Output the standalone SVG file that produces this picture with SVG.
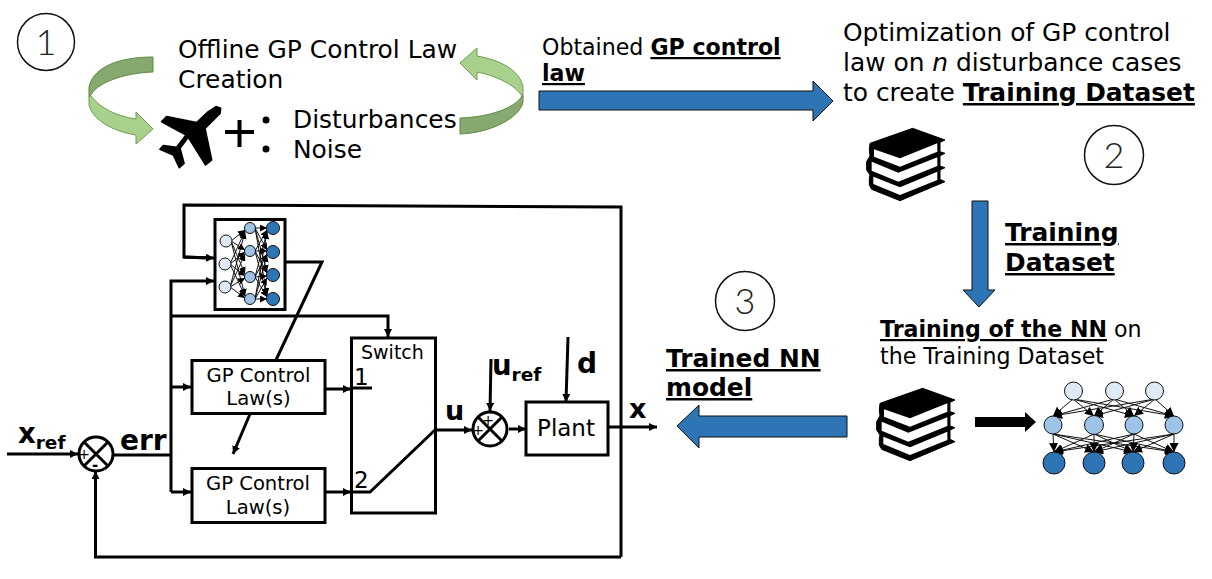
<svg xmlns="http://www.w3.org/2000/svg" width="1212" height="579" viewBox="0 0 1212 579">
<style>
text{font-family:"DejaVu Sans",sans-serif;fill:#000}
.b{font-weight:700}
.u{text-decoration:underline}
.t{font-size:24.9px}
.num{font-family:"Lato","Open Sans","DejaVu Sans",sans-serif;font-weight:300;font-size:36px;text-anchor:middle;fill:#222}
.gp{font-size:19.6px;text-anchor:middle}
.box{fill:#fff;stroke:#000;stroke-width:3}
.w{fill:none;stroke:#000;stroke-width:3}
.a{marker-end:url(#ah)}
.ring{fill:none;stroke:#111;stroke-width:1.5}
.blue{fill:#2e75b6;stroke:#111;stroke-width:1}
.dk{fill:#86a96f;stroke:#5f8a45;stroke-width:1}
.lt{fill:#a9d18e;stroke:#6f9c50;stroke-width:1}
.e line{stroke:#111;stroke-width:1;marker-end:url(#nh)}
.e2 line{stroke:#111;stroke-width:1;marker-end:url(#nh2)}
.n1{fill:#deebf7;stroke:#111;stroke-width:1}
.n2{fill:#9dc3e6;stroke:#111;stroke-width:1}
.n3{fill:#2e75b6;stroke:#111;stroke-width:1}
</style>
<defs>
<marker id="ah" markerUnits="userSpaceOnUse" markerWidth="10" markerHeight="8" refX="8" refY="4" orient="auto"><path d="M0 0L8 4L0 8z"/></marker>
<marker id="nh" markerUnits="userSpaceOnUse" markerWidth="10" markerHeight="9" refX="9" refY="4.500" orient="auto"><path d="M0 0L9 4.500L0 9z"/></marker>
<marker id="nh2" markerUnits="userSpaceOnUse" markerWidth="8" markerHeight="7" refX="7" refY="3.500" orient="auto"><path d="M0 0L7 3.500L0 7z"/></marker>
<g id="book" transform="scale(.3333)">
<path d="M60 100L188 55L285 90L270 97V125L285 130L270 137V168L285 173L270 180V208L285 215L150 272L65 238L58 225V205L60 195L50 180V155L60 138L58 120z" stroke="#000" stroke-width="3" stroke-linejoin="round"/>
<path d="M72 118L150 145L262 100V125L150 170L72 140zM65 155L145 188L262 142V168L145 215L65 182zM70 200L150 232L262 185V210L150 255L70 222z" fill="#fff"/>
</g>
</defs>

<g id="step1-badge"><circle class="ring" cx="46" cy="42" r="28.500"/><text class="num" x="46" y="55">1</text></g>
<g id="step2-badge"><circle class="ring" cx="1114" cy="155" r="29.500"/><text class="num" x="1114" y="168">2</text></g>
<g id="step3-badge"><circle class="ring" cx="745" cy="301" r="29.500"/><text class="num" x="745" y="314">3</text></g>

<g id="cycle-left">
<path class="dk" d="M153 57V72C123 73 97 83 91 95L89 97V87C93 68 117 57 153 57z"/>
<path class="lt" d="M89 96L91 96C100 108 116 116 136 119V112L153 129L136 144V135C112 131 93 120 89 105z"/>
</g>
<g id="cycle-right">
<path class="lt" d="M460 63L477 48V56C500 60 520 70 523 87V97L522 96C515 85 497 76 477 72V80z"/>
<path class="dk" d="M523 96V102C520 118 490 133 460 134V118C490 117 515 108 522 96z"/>
</g>

<g id="offline-title"><text class="t" x="178" y="58">Offline GP Control Law</text><text class="t" x="178" y="88">Creation</text></g>
<g id="plane"><path d="M648 320L662 325L660 340L615 385L635 480L617 495L565 412L540 445L552 490L538 503L520 465L480 448L490 437L530 442L558 405L485 365L500 350L590 368L625 335z" transform="scale(.3333)" stroke="#000" stroke-width="5" stroke-linejoin="round"/></g>
<g id="plus"><path d="M225 132H254M239.500 120V147" stroke="#000" stroke-width="4" fill="none"/></g>
<g id="disturbances">
<circle cx="266" cy="120" r="3.500"/><circle cx="266" cy="149" r="3.500"/>
<text class="t" x="293" y="128">Disturbances</text><text class="t" x="293" y="158">Noise</text>
</g>

<g id="obtained-label"><text x="542" y="55" font-size="22.100">Obtained <tspan class="b u">GP control</tspan></text><text class="b u" x="542" y="81" font-size="22.100">law</text></g>
<path id="arrow-right" class="blue" d="M539 91H813V81L833 101L813 121V110L539 110z"/>
<g id="optimization-label">
<text class="t" x="843" y="41">Optimization of GP control</text>
<text class="t" x="843" y="71">law on <tspan font-style="italic">n</tspan> disturbance cases</text>
<text class="t" x="843" y="101">to create <tspan class="b u">Training Dataset</tspan></text>
</g>
<use id="books-top" href="#book" transform="translate(850 110)"/>
<path id="arrow-down" class="blue" d="M972 201H988V290H995L979 307L963 290H972z"/>
<g id="training-dataset-label"><text class="t b u" x="1005" y="241">Training</text><text class="t b u" x="1005" y="271">Dataset</text></g>
<g id="training-nn-label"><text x="880" y="337" font-size="22.100"><tspan class="b u">Training of the NN</tspan> on</text><text x="880" y="364" font-size="22.100">the Training Dataset</text></g>
<use id="books-bottom" href="#book" transform="translate(860 370)"/>
<path id="arrow-black" d="M975 417H1025V412L1036 422L1025 432V427H975z"/>
<path id="arrow-left" class="blue" d="M847 416V437H699V448L677 426L699 405V416z"/>
<g id="trained-label"><text class="t b u" x="666" y="367">Trained NN</text><text class="t b u" x="666" y="396">model</text></g>

<g id="nn-large">
<g class="e">
<line x1="1073" y1="399" x2="1053" y2="416"/><line x1="1073" y1="399" x2="1094" y2="416"/><line x1="1073" y1="399" x2="1134" y2="416"/><line x1="1073" y1="399" x2="1174" y2="416"/>
<line x1="1114" y1="399" x2="1053" y2="416"/><line x1="1114" y1="399" x2="1094" y2="416"/><line x1="1114" y1="399" x2="1134" y2="416"/><line x1="1114" y1="399" x2="1174" y2="416"/>
<line x1="1155" y1="399" x2="1053" y2="416"/><line x1="1155" y1="399" x2="1094" y2="416"/><line x1="1155" y1="399" x2="1134" y2="416"/><line x1="1155" y1="399" x2="1174" y2="416"/>
<line x1="1053" y1="434" x2="1054" y2="452"/><line x1="1053" y1="434" x2="1094" y2="452"/><line x1="1053" y1="434" x2="1133" y2="452"/><line x1="1053" y1="434" x2="1174" y2="452"/>
<line x1="1094" y1="434" x2="1054" y2="452"/><line x1="1094" y1="434" x2="1094" y2="452"/><line x1="1094" y1="434" x2="1133" y2="452"/><line x1="1094" y1="434" x2="1174" y2="452"/>
<line x1="1134" y1="434" x2="1054" y2="452"/><line x1="1134" y1="434" x2="1094" y2="452"/><line x1="1134" y1="434" x2="1133" y2="452"/><line x1="1134" y1="434" x2="1174" y2="452"/>
<line x1="1174" y1="434" x2="1054" y2="452"/><line x1="1174" y1="434" x2="1094" y2="452"/><line x1="1174" y1="434" x2="1133" y2="452"/><line x1="1174" y1="434" x2="1174" y2="452"/>
</g>
<circle class="n1" cx="1073.500" cy="391" r="9"/><circle class="n1" cx="1114.500" cy="391" r="9"/><circle class="n1" cx="1154.500" cy="391" r="9"/>
<circle class="n2" cx="1053" cy="425" r="9"/><circle class="n2" cx="1094" cy="425" r="9.500"/><circle class="n2" cx="1134" cy="425" r="9"/><circle class="n2" cx="1174" cy="425" r="9"/>
<circle class="n3" cx="1054" cy="463" r="11"/><circle class="n3" cx="1094" cy="463" r="11"/><circle class="n3" cx="1133" cy="463" r="11"/><circle class="n3" cx="1174" cy="463" r="11"/>
</g>

<g id="connectors">
<path class="w" d="M621 557V207L184 205V257L208 258"/>
<path class="w a" d="M184 257L214 258"/>
<path class="w a" d="M621 557H95.500V471"/>
<path class="w a" d="M7 454H78"/>
<path class="w" d="M113 455H171"/>
<path class="w a" d="M171 492V281H214"/>
<path class="w a" d="M171 316H388V337"/>
<path class="w a" d="M171 387H191"/>
<path class="w a" d="M171 492H191"/>
<path class="w" d="M285 262H322L276 360"/>
<path class="w a" d="M250 414L233 454"/>
<path class="w a" d="M325 389H351"/>
<path class="w a" d="M325 492H351"/>
<path class="w a" d="M435 430H472"/>
<path class="w a" d="M509 429H526"/>
<path class="w a" d="M491 359L490 411"/>
<path class="w a" d="M568 337L566 402"/>
<path class="w a" d="M608 427H657"/>
</g>

<g id="nn-small">
<rect class="box" x="215" y="219.500" width="70" height="90"/>
<g class="e2">
<line x1="231" y1="241" x2="245" y2="230"/><line x1="231" y1="241" x2="245" y2="250"/><line x1="231" y1="241" x2="245" y2="274"/><line x1="231" y1="241" x2="245" y2="296"/>
<line x1="230" y1="264" x2="245" y2="231"/><line x1="230" y1="264" x2="245" y2="252"/><line x1="230" y1="264" x2="245" y2="276"/><line x1="230" y1="264" x2="245" y2="296"/>
<line x1="230" y1="287" x2="245" y2="232"/><line x1="230" y1="287" x2="245" y2="254"/><line x1="230" y1="287" x2="245" y2="278"/><line x1="230" y1="287" x2="245" y2="298"/>
<line x1="255" y1="228" x2="267" y2="228"/><line x1="255" y1="228" x2="267" y2="250"/><line x1="255" y1="228" x2="267" y2="272"/><line x1="255" y1="228" x2="267" y2="295"/>
<line x1="255" y1="251" x2="267" y2="230"/><line x1="255" y1="251" x2="267" y2="251"/><line x1="255" y1="251" x2="267" y2="273"/><line x1="255" y1="251" x2="267" y2="296"/>
<line x1="255" y1="277" x2="267" y2="232"/><line x1="255" y1="277" x2="267" y2="254"/><line x1="255" y1="277" x2="267" y2="276"/><line x1="255" y1="277" x2="267" y2="297"/>
<line x1="255" y1="299" x2="267" y2="232"/><line x1="255" y1="299" x2="267" y2="255"/><line x1="255" y1="299" x2="267" y2="278"/><line x1="255" y1="299" x2="267" y2="299"/>
</g>
<circle class="n1" cx="226" cy="241" r="6"/><circle class="n1" cx="225" cy="264" r="6"/><circle class="n1" cx="225" cy="287" r="6"/>
<circle class="n2" cx="250" cy="228" r="5.500"/><circle class="n2" cx="250" cy="251" r="5.500"/><circle class="n2" cx="250" cy="277" r="5.500"/><circle class="n2" cx="250" cy="299" r="5.500"/>
<circle class="n3" cx="273" cy="228" r="6.500"/><circle class="n3" cx="273" cy="252" r="6.500"/><circle class="n3" cx="273" cy="275" r="6.500"/><circle class="n3" cx="273" cy="299" r="6.500"/>
</g>

<g id="gp-law-1"><rect class="box" x="192" y="360.500" width="133" height="53"/><text class="gp" x="258.500" y="382">GP Control</text><text class="gp" x="258.500" y="405">Law(s)</text></g>
<g id="gp-law-2"><rect class="box" x="192" y="468.500" width="133" height="54"/><text class="gp" x="258" y="490">GP Control</text><text class="gp" x="258" y="514">Law(s)</text></g>
<g id="switch">
<rect class="w" x="351.500" y="338" width="84" height="175"/>
<text x="361" y="359" font-size="19">Switch</text>
<text x="354" y="385" font-size="23">1</text>
<text x="354" y="488" font-size="23">2</text>
<path class="w" d="M351 388H372M351 492H370L435 430"/>
</g>
<g id="plant"><rect class="box" x="526" y="402" width="82" height="53"/><text x="566" y="436" font-size="23" text-anchor="middle">Plant</text></g>
<g id="sum-1">
<circle class="w" cx="96" cy="454" r="17"/>
<path class="w" d="M84 442L108 466M108 442L84 466"/>
<text x="84" y="459" font-size="14" text-anchor="middle">+</text>
<text class="b" x="95" y="470" font-size="15" text-anchor="middle">-</text>
</g>
<g id="sum-2">
<circle class="w" cx="490" cy="429" r="17"/>
<path class="w" d="M478 417L502 441M502 417L478 441"/>
<text x="488" y="425" font-size="14" text-anchor="middle">+</text>
<text x="478" y="435" font-size="14" text-anchor="middle">+</text>
</g>

<g id="signal-labels">
<text class="b" x="18" y="443" font-size="27.500">x<tspan font-size="18.500" dy="6">ref</tspan></text>
<text class="b" x="120" y="450" font-size="28">err</text>
<text class="b" x="445" y="420" font-size="27">u</text>
<text class="b" x="492" y="375" font-size="27.500">u<tspan font-size="18.500" dy="6">ref</tspan></text>
<text class="b" x="577" y="373" font-size="28">d</text>
<text class="b" x="629" y="418" font-size="27">x</text>
</g>
</svg>
